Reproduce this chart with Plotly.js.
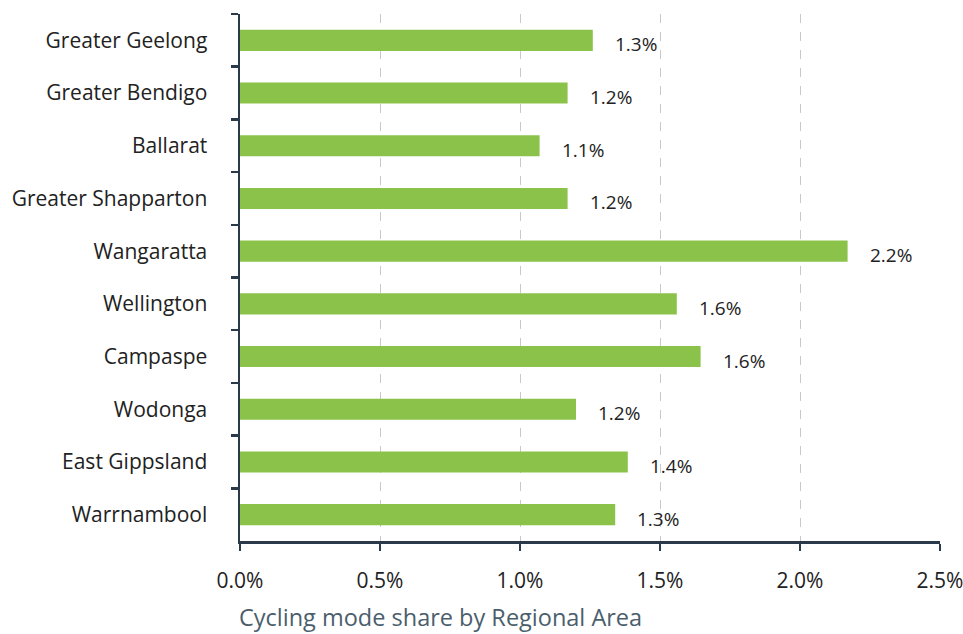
<!DOCTYPE html>
<html><head><meta charset="utf-8">
<script src="https://cdn.plot.ly/plotly-3.0.1.min.js"></script>
<style>body{margin:0;background:#fff}#chart{width:963px;height:634px}</style>
</head><body><div id="chart"></div>
<script>
const regions = ["Greater Geelong","Greater Bendigo","Ballarat","Greater Shapparton","Wangaratta","Wellington","Campaspe","Wodonga","East Gippsland","Warrnambool"];
const shares = [1.26, 1.17, 1.07, 1.17, 2.17, 1.56, 1.645, 1.2, 1.385, 1.34];
const labels = ["1.3%","1.2%","1.1%","1.2%","2.2%","1.6%","1.6%","1.2%","1.4%","1.3%"];
const xTickVals = [0,0.5,1,1.5,2,2.5];
const xTickText = ["0.0%","0.5%","1.0%","1.5%","2.0%","2.5%"];
const axisTitle = "Cycling mode share by Regional Area";

const font = "'Open Sans', sans-serif";
const trace = {
  type: "bar", orientation: "h", x: shares, y: regions,
  marker: {color: "#8bc34a"}, width: 0.4, hoverinfo: "none"
};
const annotations = regions.map((r,i)=>({
  x: shares[i], y: r, xref: "x", yref: "y", text: labels[i], showarrow: false,
  xanchor: "left", yanchor: "middle", xshift: 20, yshift: -4,
  font: {family: font, size: 19, color: "#222"}
}));
annotations.push({
  xref: "paper", yref: "paper", x: -0.004, y: -0.145, xanchor: "left", yanchor: "middle",
  text: axisTitle, showarrow: false, font: {family: font, size: 23.5, color: "#4b5e6c"}
});
const layout = {
  width: 963, height: 634,
  margin: {l: 240, r: 23, t: 14, b: 93},
  paper_bgcolor: "#fff", plot_bgcolor: "#fff",
  showlegend: false, bargap: 0.6,
  font: {family: font, size: 21, color: "#222"},
  xaxis: {
    range: [0, 2.5], tickvals: xTickVals, ticktext: xTickText,
    showgrid: true, gridcolor: "#c9c9c9", griddash: "dash", gridwidth: 1,
    showline: true, linecolor: "#2b3a4a", linewidth: 2.5,
    ticks: "outside", ticklen: 7, tickwidth: 2.5, tickcolor: "#2b3a4a",
    ticklabelstandoff: 12, ticklabeloverflow: "allow", zeroline: false, fixedrange: true
  },
  yaxis: {
    autorange: "reversed", showline: true, linecolor: "#2b3a4a", linewidth: 2.5,
    ticks: "outside", tickson: "boundaries", ticklen: 7, tickwidth: 2.5, tickcolor: "#2b3a4a",
    ticklabelstandoff: 26, showgrid: false, zeroline: false, fixedrange: true
  },
  annotations: annotations
};
Plotly.newPlot("chart", [trace], layout, {displayModeBar: false, staticPlot: true});
</script></body></html>
